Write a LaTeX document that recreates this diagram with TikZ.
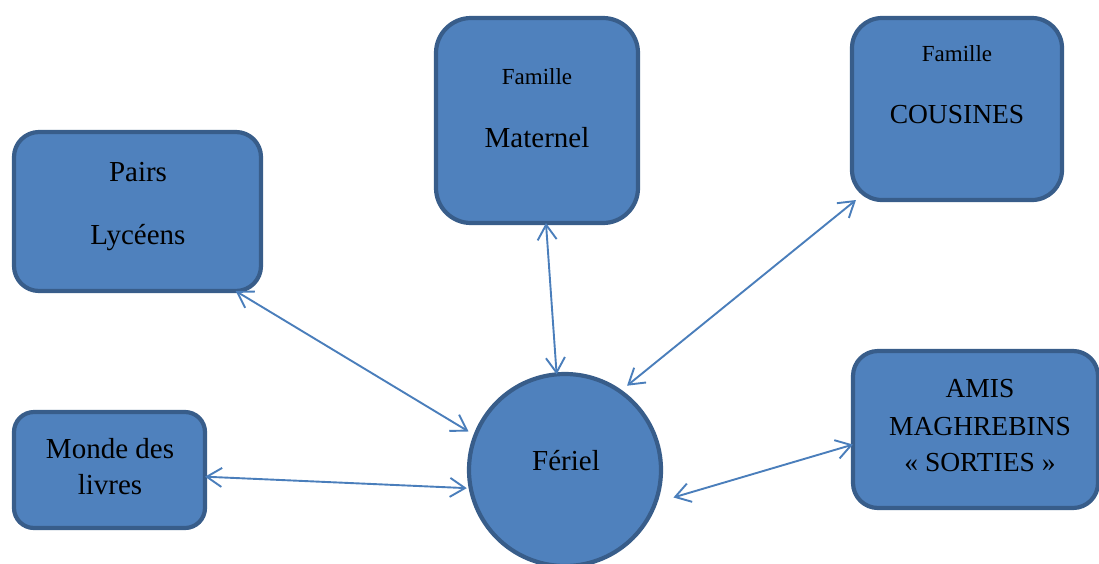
\documentclass[tikz,border=0pt]{standalone}
\usepackage{fontspec}
\setmainfont{Liberation Serif}
\usetikzlibrary{arrows.meta,positioning}

\definecolor{boxfill}{HTML}{4F81BD}
\definecolor{boxline}{HTML}{385D8A}
\definecolor{linkcol}{HTML}{4A7EBB}

\tikzset{
    box/.style={draw=boxline, fill=boxfill, line width=4.2pt, outer sep=0pt, rectangle},
    ring/.style={draw=boxline, fill=boxfill, line width=4.2pt, outer sep=0pt, circle, minimum size=192pt},
    txt/.style={anchor=base, inner sep=0pt, font=\fontsize{29}{35}\selectfont},
    captxt/.style={txt, font=\fontsize{27.5}{33}\selectfont},
    smalltxt/.style={anchor=base, inner sep=0pt, font=\fontsize{23}{28}\selectfont},
    link/.style={<->, draw=linkcol, line width=1.9pt}
}

\begin{document}
\begin{tikzpicture}[x=1pt,y=-1pt,>={Straight Barb[length=15pt,width=19pt]}]
    \useasboundingbox (0,0) rectangle (1099,563);

    % boxes
    \node[box, minimum width=247pt, minimum height=159pt, rounded corners=25pt] (pairs) at (137.5,211.5) {};
    \node[box, minimum width=202pt, minimum height=205pt, rounded corners=35pt] (maternel) at (537,120.5) {};
    \node[box, minimum width=210pt, minimum height=182pt, rounded corners=30pt] (cousines) at (957,109) {};
    \node[box, minimum width=191pt, minimum height=116pt, rounded corners=20pt] (monde) at (109.5,470) {};
    \node[box, minimum width=245pt, minimum height=157pt, rounded corners=25pt] (amis) at (975.5,429.5) {};
    \node[ring] (feriel) at (565,470) {};

    % texts
    \node[txt] (t-pairs) at (138,181) {Pairs};
    \node[txt] (t-lyceens) at (138,244) {Lycéens};

    \node[smalltxt] (t-famille1) at (537,84) {Famille};
    \node[txt] (t-maternel) at (537,147) {Maternel};

    \node[smalltxt] (t-famille2) at (957,61) {Famille};
    \node[captxt] (t-cousines) at (957,123) {COUSINES};

    \node[txt] (t-monde) at (110,458) {Monde des};
    \node[txt] (t-livres) at (110,494) {livres};

    \node[captxt] (t-amis) at (980,397) {AMIS};
    \node[captxt] (t-maghreb) at (980,435) {MAGHREBINS};
    \node[captxt] (t-sorties) at (980,471) {« SORTIES »};

    \node[txt] (t-feriel) at (566,470) {Fériel};

    % links
    \draw[link, shorten >=8pt] (pairs.-39.3) -- (feriel.159.1);
    \draw[link] (maternel.-85.8) -- (feriel.95.9);
    \draw[link, shorten >=9pt] (cousines.-138.4) -- (feriel.55.1);
    \draw[link, shorten >=4pt] (monde.-4.1) -- (feriel.-169);
    \draw[link, shorten >=19pt] (amis.187.4) -- (feriel.-20.8);
\end{tikzpicture}
\end{document}
